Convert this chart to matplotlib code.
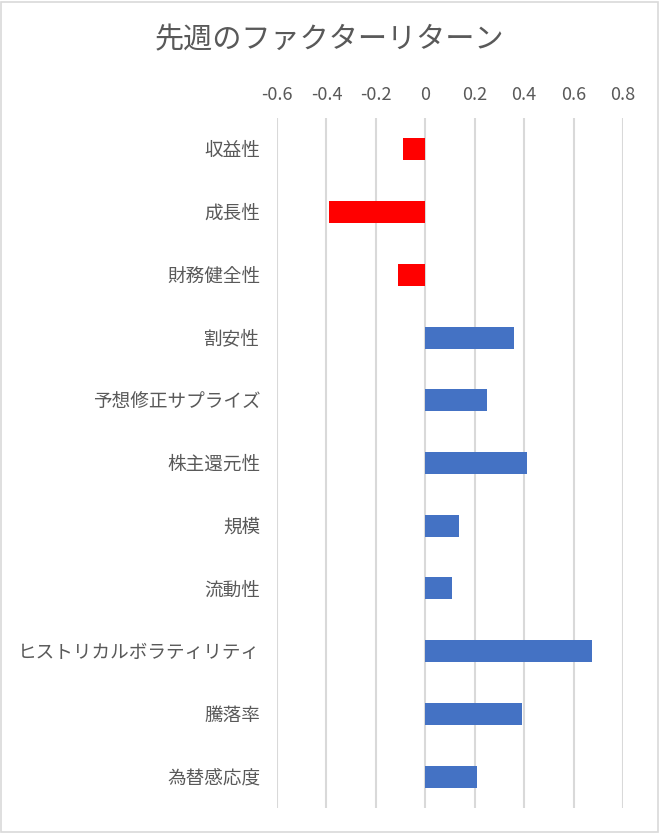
import matplotlib.pyplot as plt
from matplotlib.patches import Rectangle

plt.rcParams['font.family'] = ['Noto Sans CJK JP', 'DejaVu Sans']

# データ
factors = ['収益性', '成長性', '財務健全性', '割安性', '予想修正サプライズ', '株主還元性',
           '規模', '流動性', 'ヒストリカルボラティリティ', '騰落率', '為替感応度']
returns = [-0.09, -0.39, -0.11, 0.36, 0.25, 0.41, 0.135, 0.11, 0.675, 0.39, 0.21]
xticks = [-0.6, -0.4, -0.2, 0, 0.2, 0.4, 0.6, 0.8]
xtick_labels = ['-0.6', '-0.4', '-0.2', '0', '0.2', '0.4', '0.6', '0.8']

gray = '#595959'
colors = ['#FF0000' if v < 0 else '#4472C4' for v in returns]

fig = plt.figure(figsize=(6.59, 8.33), dpi=100)
ax = fig.add_axes([0.4203, 0.030, 0.5251, 0.8283])

ypos = list(range(len(factors)))
ax.barh(ypos, returns, height=0.35, color=colors, zorder=3)

ax.set_xlim(-0.6, 0.8)
ax.set_ylim(len(factors) - 0.5, -0.5)
ax.set_xticks(xticks)
ax.set_xticklabels(xtick_labels)
ax.set_yticks(ypos)
ax.set_yticklabels(factors)
ax.xaxis.tick_top()
ax.tick_params(axis='x', length=0, pad=10, labelsize=13, labelcolor=gray)
ax.tick_params(axis='y', length=0, pad=12, labelsize=13.4, labelcolor=gray)
ax.grid(axis='x', color='#D9D9D9', linewidth=1.5, zorder=0)
ax.grid(axis='y', visible=False)
for s in ax.spines.values():
    s.set_visible(False)

fig.text(0.5, 1 - 40 / 833, '先週のファクターリターン', ha='center', va='center',
         fontsize=21, color=gray)

# 外枠
fig.patches.append(Rectangle((0.001, 0.001), 0.997, 0.997, transform=fig.transFigure,
                             fill=False, edgecolor='#D9D9D9', linewidth=1.2))

fig.savefig('out.png', dpi=100)
